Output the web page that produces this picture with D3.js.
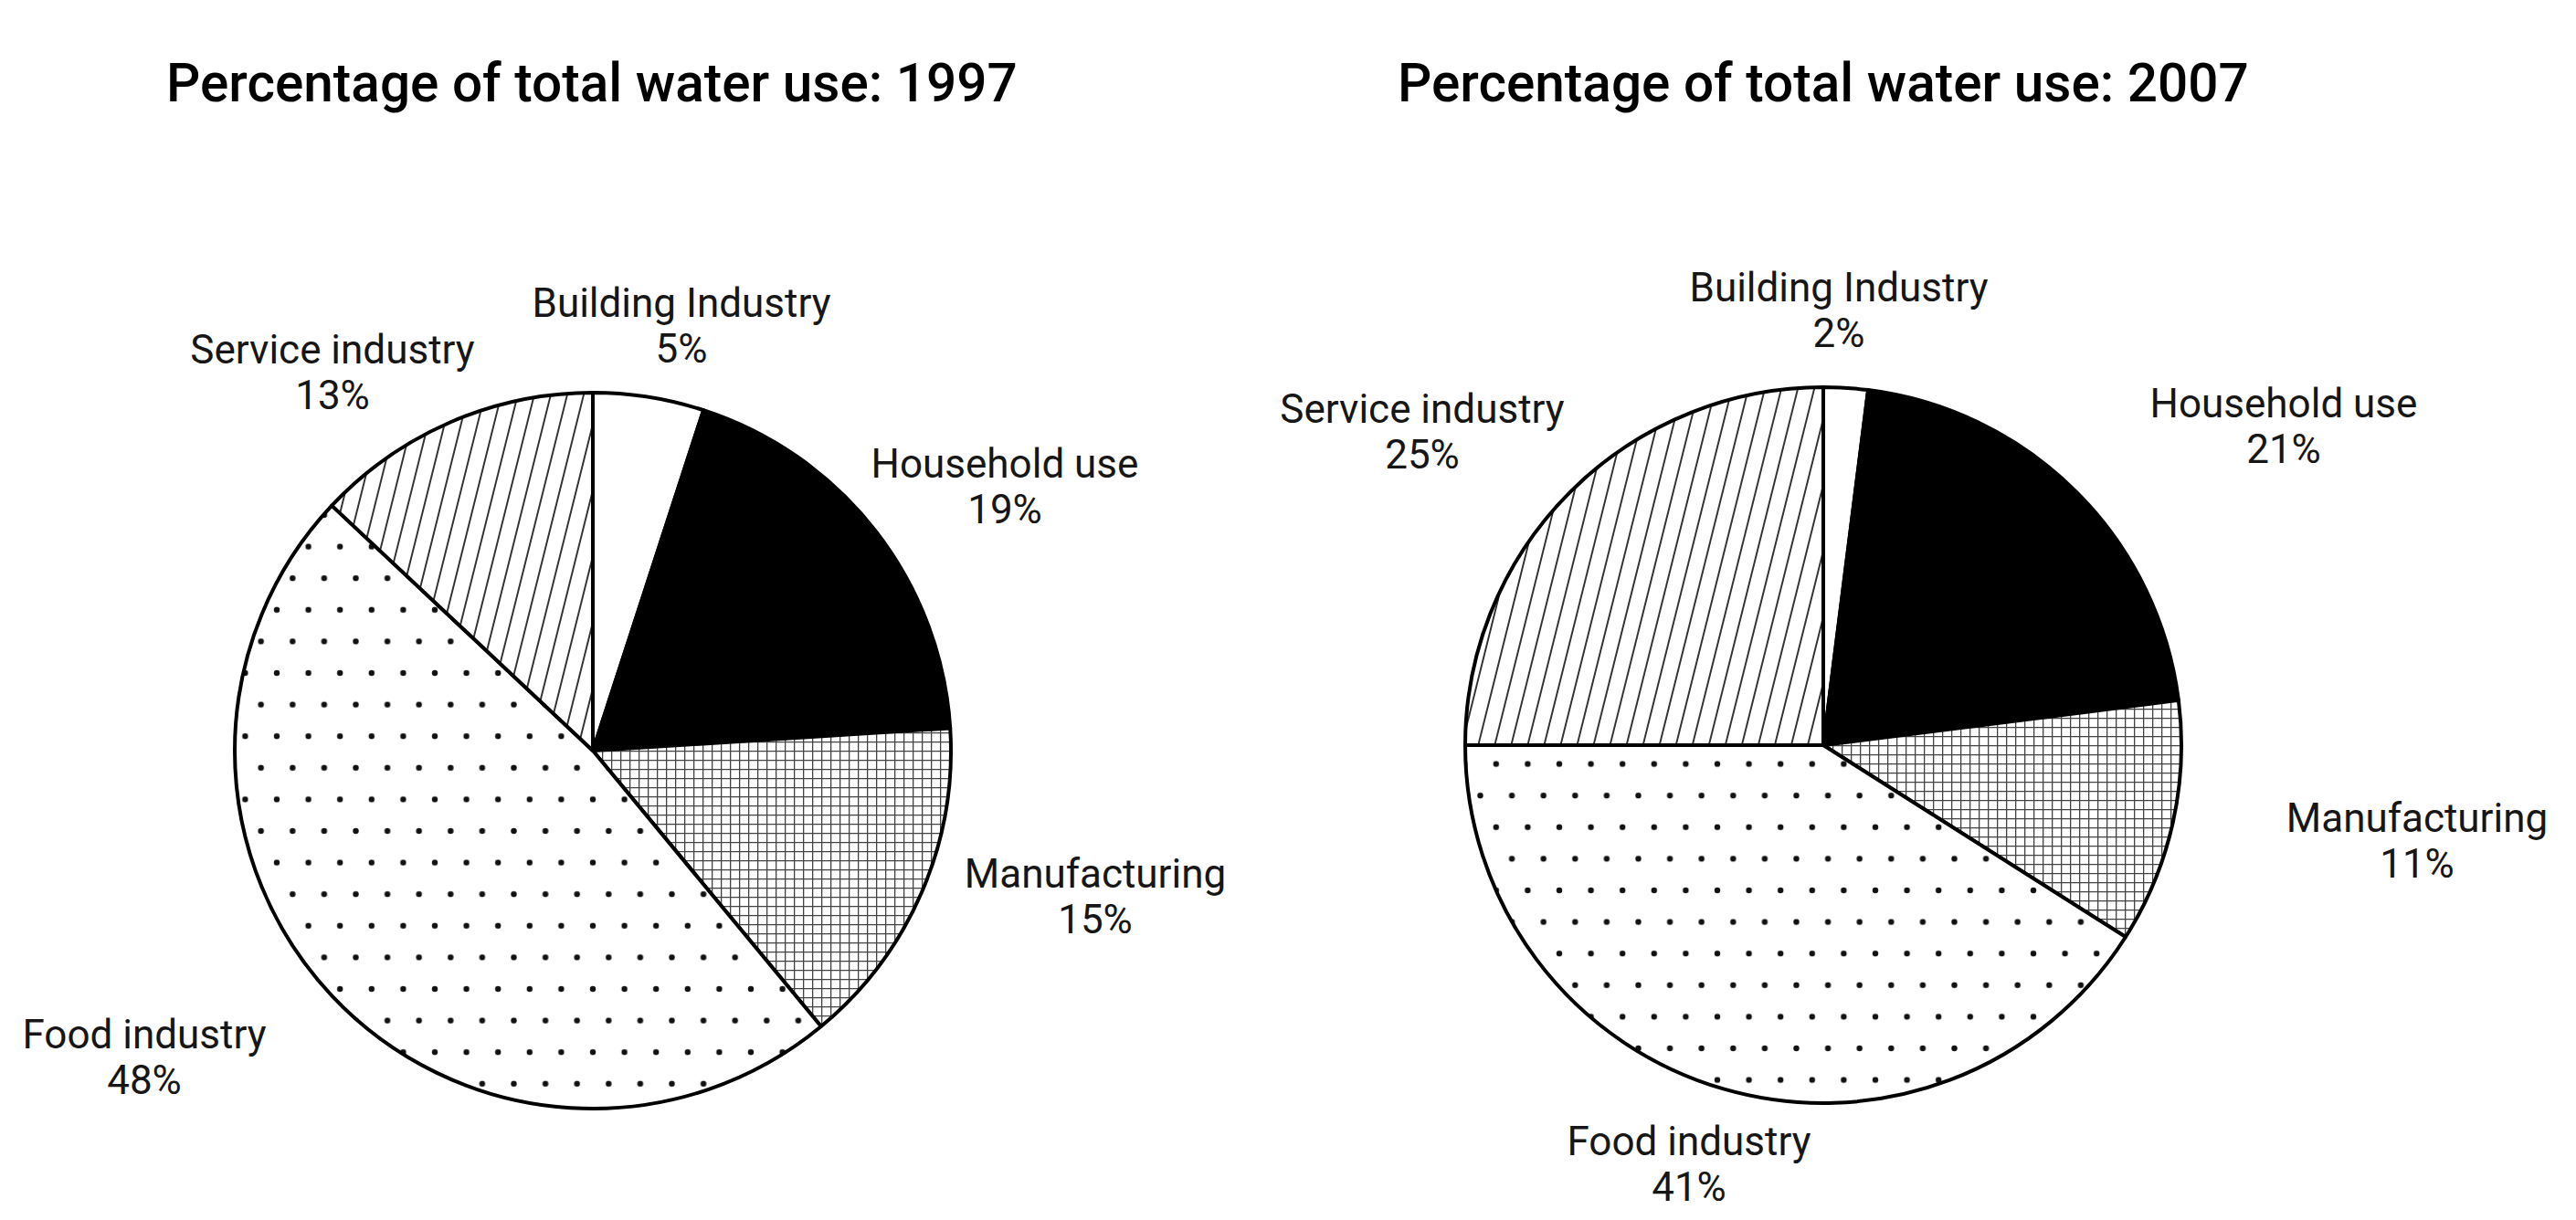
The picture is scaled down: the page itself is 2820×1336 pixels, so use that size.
<!DOCTYPE html>
<html>
<head>
<meta charset="utf-8">
<script src="https://cdn.jsdelivr.net/npm/d3@7"></script>
<style>
  body { margin: 0; background: #fff; }
  text { font-family: Roboto, "Noto Sans", sans-serif; fill: #161616; }
</style>
</head>
<body>
<div id="chart"></div>
<script>
// data
var categories = ["Building Industry", "Household use", "Manufacturing", "Food industry", "Service industry"];
var years = ["1997", "2007"];
var values1997 = [5, 19, 15, 48, 13];
var values2007 = [2, 21, 11, 41, 25];
var fills = ["white", "black", "grid", "dots", "hatch"];

// layout of each pie (centre, label offsets from centre)
var charts = [
  { year: years[0], values: values1997, cx: 649, cy: 822, titleX: 182, dotX: 346, dotY: 607,
    labels: [[97, -475], [451, -299], [550, 150], [-491, 326], [-285, -424]] },
  { year: years[1], values: values2007, cx: 1996, cy: 816, titleX: 1530, dotX: 1614, dotY: 851,
    labels: [[17, -486], [504, -359], [650, 95], [-147, 449], [-439, -353]] }
];

var width = 2820, height = 1336, radius = 392;

var svg = d3.select("#chart")
  .append("svg")
  .attr("width", width)
  .attr("height", height);

var defs = svg.append("defs");

charts.forEach(function(c, i) {
  // dotted fill, staggered rows
  var dots = defs.append("pattern")
    .attr("id", "dots" + i)
    .attr("patternUnits", "userSpaceOnUse")
    .attr("x", c.dotX).attr("y", c.dotY)
    .attr("width", 34.6).attr("height", 69.2);
  dots.append("rect").attr("width", 34.6).attr("height", 69.2).attr("fill", "white");
  [[0, 0], [34.6, 0], [0, 69.2], [34.6, 69.2], [17.3, 34.6]].forEach(function(p) {
    dots.append("circle").attr("cx", p[0]).attr("cy", p[1]).attr("r", 3.2).attr("fill", "#111");
  });

  // thin diagonal lines
  var hatch = defs.append("pattern")
    .attr("id", "hatch" + i)
    .attr("patternUnits", "userSpaceOnUse")
    .attr("width", 17.5).attr("height", 17.5)
    .attr("patternTransform", "rotate(14)");
  hatch.append("rect").attr("width", 17.5).attr("height", 17.5).attr("fill", "white");
  hatch.append("line")
    .attr("x1", 1).attr("y1", -1).attr("x2", 1).attr("y2", 19)
    .attr("stroke", "#222").attr("stroke-width", 1.8);

  // fine square grid
  var grid = defs.append("pattern")
    .attr("id", "grid" + i)
    .attr("patternUnits", "userSpaceOnUse")
    .attr("width", 10).attr("height", 10);
  grid.append("rect").attr("width", 10).attr("height", 10).attr("fill", "white");
  grid.append("path")
    .attr("d", "M0.65,0V10M0,0.65H10")
    .attr("stroke", "#444").attr("stroke-width", 1.3);
});

var pie = d3.pie().sort(null).value(function(d) { return d; });
var arc = d3.arc().innerRadius(0).outerRadius(radius);

function fillFor(kind, i) {
  if (kind == "white" || kind == "black") return kind;
  return "url(#" + kind + i + ")";
}

charts.forEach(function(c, i) {
  svg.append("text")
    .attr("x", c.titleX)
    .attr("y", 111)
    .style("font-size", "58.5px")
    .style("font-weight", 500)
    .style("fill", "#000")
    .text("Percentage of total water use: " + c.year);

  var g = svg.append("g")
    .attr("transform", "translate(" + c.cx + "," + c.cy + ")");

  g.selectAll("path")
    .data(pie(c.values))
    .enter()
    .append("path")
    .attr("d", arc)
    .attr("fill", function(d, j) { return fillFor(fills[j], i); })
    .attr("stroke", "#000")
    .attr("stroke-width", 4)
    .attr("stroke-linejoin", "round");

  // labels: name on one line, percent below
  var lab = g.selectAll("text.lab")
    .data(c.values)
    .enter()
    .append("text")
    .attr("class", "lab")
    .attr("text-anchor", "middle")
    .style("font-size", "44px");

  lab.append("tspan")
    .attr("x", function(d, j) { return c.labels[j][0]; })
    .attr("y", function(d, j) { return c.labels[j][1]; })
    .text(function(d, j) { return categories[j]; });

  lab.append("tspan")
    .attr("x", function(d, j) { return c.labels[j][0]; })
    .attr("y", function(d, j) { return c.labels[j][1] + 50; })
    .text(function(d) { return d + "%"; });
});
</script>
</body>
</html>
